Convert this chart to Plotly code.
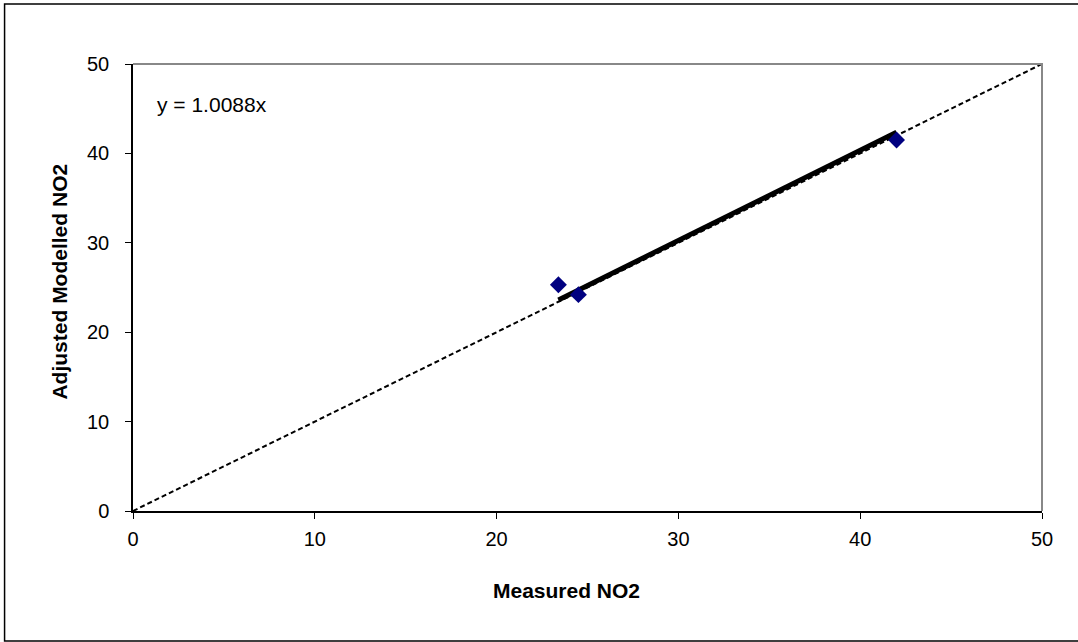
import plotly.graph_objects as go

measured = [23.4, 24.5, 42.0]
modelled = [25.3, 24.2, 41.5]
slope = 1.0088
axis_range = [0, 50]
tick_vals = [0, 10, 20, 30, 40, 50]
eq_label = "y = 1.0088x"
x_title = "<b>Measured NO2</b>"
y_title = "<b>Adjusted Modelled NO2</b>"

font_family = "Liberation Sans, Arial, sans-serif"

fig = go.Figure()
# 1:1 dashed line
fig.add_trace(go.Scatter(x=axis_range, y=axis_range, mode="lines",
                         line=dict(color="black", width=2, dash="5px,3px"),
                         hoverinfo="skip", showlegend=False))
# trendline
tx = [min(measured), max(measured)]
fig.add_trace(go.Scatter(x=tx, y=[slope * v for v in tx], mode="lines",
                         line=dict(color="black", width=5),
                         showlegend=False))
# points
fig.add_trace(go.Scatter(x=measured, y=modelled, mode="markers",
                         marker=dict(symbol="diamond", size=13, color="#000080"),
                         showlegend=False))

L, R, T, B = 132.5, 36, 64, 131
W, H = 1078, 642
pw, ph = W - L - R, H - T - B

def px(xp):
    return (xp - L) / pw

def py(yp):
    return (H - B - yp) / ph

fig.add_annotation(x=px(155), y=py(104), xref="paper", yref="paper",
                   text=eq_label, showarrow=False, xanchor="left", yanchor="middle",
                   font=dict(family=font_family, size=21, color="black"))
fig.add_annotation(x=px(566), y=py(590), xref="paper", yref="paper",
                   text=x_title, showarrow=False, xanchor="center", yanchor="middle",
                   font=dict(family=font_family, size=21, color="black"))
fig.add_annotation(x=px(58), y=py(282), xref="paper", yref="paper",
                   text=y_title, showarrow=False, xanchor="center", yanchor="middle",
                   textangle=-90,
                   font=dict(family=font_family, size=21, color="black"))

# outer frame
fig.add_shape(type="rect", xref="paper", yref="paper",
              x0=px(4), x1=px(1085), y0=py(641), y1=py(4),
              line=dict(color="black", width=1.5), fillcolor="rgba(0,0,0,0)")
# top/right gray plot border
fig.add_shape(type="path", xref="paper", yref="paper",
              path="M 0 1 L 1 1 L 1 0", line=dict(color="#888888", width=2))

fig.update_xaxes(range=axis_range, tickvals=tick_vals, showgrid=False, zeroline=False,
                 showline=True, linecolor="black", linewidth=1.5,
                 ticks="outside", ticklen=6, tickcolor="black", ticklabelstandoff=3,
                 tickfont=dict(family=font_family, size=20, color="black"))
fig.update_yaxes(range=axis_range, tickvals=tick_vals, showgrid=False, zeroline=False,
                 showline=True, linecolor="black", linewidth=1.5,
                 ticks="outside", ticklen=6, tickcolor="black", ticklabelstandoff=12,
                 tickfont=dict(family=font_family, size=20, color="black"))

fig.update_layout(width=W, height=H, margin=dict(l=L, r=R, t=T, b=B),
                  paper_bgcolor="white", plot_bgcolor="white")

fig.write_html("out.html", config={"displayModeBar": False},
               post_script="document.body.style.margin='0';document.body.style.overflow='hidden';")
